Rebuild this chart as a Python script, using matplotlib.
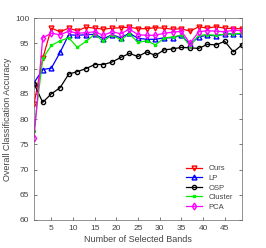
import numpy as np
import matplotlib
matplotlib.use('Agg')
import matplotlib.pyplot as plt

plt.rcParams['font.family'] = ['Liberation Sans', 'DejaVu Sans']

bands = list(range(1, 50, 2))
ours = [83, 92, 98, 97.3, 98, 97.5, 98.2, 98, 97.8, 98, 98.1, 98.2, 97.9,
        97.9, 98.1, 98, 97.8, 97.9, 97.4, 98.3, 98, 98.3, 98, 97.9, 97.9]
lp = [87.2, 89.8, 90.1, 93.2, 96.7, 96.6, 96.7, 96.8, 95.9, 96.7, 96.1, 97, 96,
      95.8, 95.8, 96.1, 96.1, 96.6, 94.8, 96.3, 96.6, 96.5, 96.8, 96.9, 96.8]
osp = [87, 83.3, 85, 86.2, 88.9, 89.4, 90, 90.8, 90.8, 91.3, 92.2, 93, 92.4,
       93.3, 92.6, 93.7, 93.9, 94.2, 94.1, 94, 94.8, 94.7, 95.4, 93.3, 94.7]
cluster = [77.7, 92, 94.6, 95.5, 96.1, 94.2, 95.4, 96.8, 95.4, 96.7, 95.7, 96.9, 95.2,
           95.5, 94.7, 96, 96.3, 96.6, 94.5, 96.6, 96.7, 96.6, 96.8, 96.9, 97]
pca = [76.3, 96.1, 97, 96.7, 97.4, 97, 97.1, 97.3, 96.6, 97.3, 96.9, 97.8, 96.7,
       96.6, 96.6, 97, 97.2, 97.4, 95, 97.3, 97.5, 97.4, 97.3, 97.6, 97.5]

grey = '#444444'

fig = plt.figure(figsize=(2.66, 2.48), dpi=100)
ax = fig.add_axes([0.128, 0.113, 0.782, 0.814])

ax.plot(bands, ours, color='#ff0000', marker='v', ms=3.5, mfc='none', lw=0.9, label='Ours')
ax.plot(bands, lp, color='#0000ff', marker='^', ms=3.5, mfc='none', lw=0.9, label='LP')
ax.plot(bands, osp, color='black', marker='o', ms=3, mfc='none', lw=0.9, label='OSP')
ax.plot(bands, cluster, color='#00ee00', marker='s', ms=2, lw=0.9, label='Cluster')
ax.plot(bands, pca, color='#ff00ff', marker='d', ms=3.5, mfc='none', lw=0.9, label='PCA')

ax.set_xlim(1, 49)
ax.set_ylim(60, 100)
ax.set_xticks(range(5, 50, 5))
ax.set_yticks(range(60, 101, 5))
ax.tick_params(direction='in', labelsize=6, length=2, width=0.5, top=True, right=True,
               colors=grey)
for s in ax.spines.values():
    s.set_linewidth(0.5)
    s.set_color('#666666')

ax.set_xlabel('Number of Selected Bands', fontsize=6.5, labelpad=2, color=grey)
ax.set_ylabel('Overall Classification Accuracy', fontsize=6.5, labelpad=2, color=grey)

leg = ax.legend(loc='lower right', fontsize=5.5, frameon=False, handlelength=2.2,
                labelspacing=0.3, borderaxespad=0.8)
for t in leg.get_texts():
    t.set_color(grey)

fig.savefig('out.png', dpi=100)
